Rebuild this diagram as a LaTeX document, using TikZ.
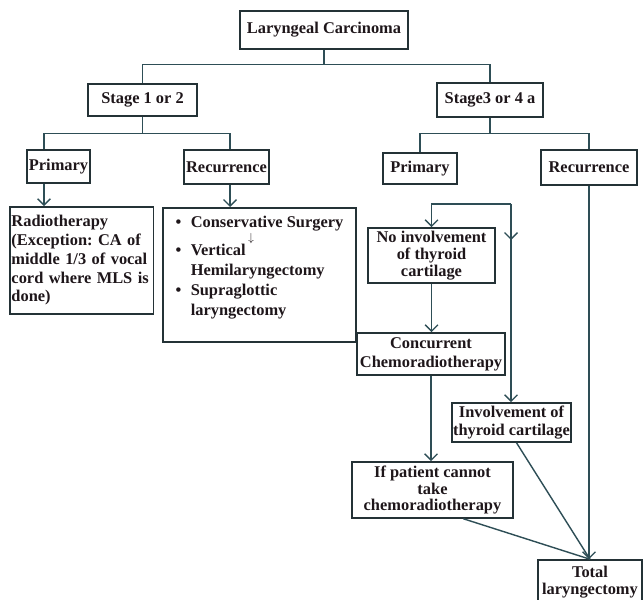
\documentclass[tikz,border=0pt]{standalone}
\usepackage{fontspec}
\setmainfont{Liberation Serif}
\usetikzlibrary{arrows.meta,calc}
\definecolor{linecol}{RGB}{46,78,86}
\definecolor{boxcol}{RGB}{36,50,54}
\definecolor{txtcol}{RGB}{30,22,26}

\begin{document}
\begin{tikzpicture}[x=0.03cm,y=-0.03cm,line width=1.2pt,
  >={Straight Barb[length=5.5pt,width=11pt]},
  box/.style={draw=boxcol,line width=1.3pt,fill=white,text=txtcol,
    font=\fontsize{14}{16}\selectfont\bfseries\frenchspacing,inner sep=1.5pt,align=center},
  tight/.style={font=\fontsize{14}{14.5}\selectfont\bfseries},
  conn/.style={draw=linecol},
  arr/.style={draw=linecol,->}]
\def\px{0.03cm}
\fill[white] (0,0) rectangle (643,600);
\useasboundingbox (0,0) rectangle (643,600);
\clip (0,0) rectangle (643,600);
% Wurzel und Stadien
\node[box,minimum width=168*\px,minimum height=38*\px] (lc) at (324,30) {Laryngeal Carcinoma};
\node[box,minimum width=109*\px,minimum height=32*\px] (s12) at (142.5,100) {Stage 1 or 2};
\node[box,minimum width=106*\px,minimum height=34*\px] (s34) at (490,100) {Stage3 or 4 a};
% Primaer / Rezidiv
\node[box,minimum width=63*\px,minimum height=33*\px] (p1) at (58.5,166.5) {Primary};
\node[box,minimum width=85*\px,minimum height=34*\px] (r1) at (226.5,167) {Recurrence};
\node[box,minimum width=74*\px,minimum height=31*\px] (p2) at (420,168.5) {Primary};
\node[box,minimum width=96*\px,minimum height=35*\px] (r2) at (589,167.5) {Recurrence};
% Stadium 1 oder 2: Therapie
\node[box,align=left,text width=4.2cm,minimum height=107*\px] (rt) at (81.5,260.5)
  {Radiotherapy\\(Exception: CA of\\middle 1/3 of vocal\\cord where MLS is\\done)};
\node[box,anchor=north,minimum width=193*\px] (cs) at (259.5,207) {%
  \begin{tabular}{@{}c@{\hspace{8pt}}l@{}}
  \rule{0pt}{15.5pt}\textbullet & Conservative Surgery\\[-4pt]
              & \hspace{3.5em}{\fontsize{10}{10}\selectfont$\downarrow$}\\[-4.25pt]
  \textbullet & Vertical\\[1pt]
              & Hemilaryngectomy\\[1pt]
  \textbullet & Supraglottic\\[1pt]
              & laryngectomy\\[16.7pt]
  \end{tabular}};
% Stadium 3 oder 4a: Therapie
\node[box,tight,minimum width=127*\px,minimum height=55*\px] (ni) at (431.5,255.5) {No involvement\\of thyroid\\cartilage};
\node[box,minimum width=148*\px,minimum height=42*\px,inner sep=1pt] (cc) at (431,354) {Concurrent\\Chemoradiotherapy};
\node[box,minimum width=119*\px,minimum height=39*\px,inner sep=0.5pt] (it) at (511.5,422.5) {Involvement of\\thyroid cartilage};
\node[box,tight,minimum width=161*\px,minimum height=56*\px] (ip) at (432.5,490) {If patient cannot\\take\\chemoradiotherapy};
\node[box,tight,minimum width=104*\px,minimum height=44*\px] (tl) at (590,582) {Total\\laryngectomy};
% Verbindungen oben
\draw[conn] (lc.south) -- ++(0,15) coordinate (j0);
\draw[conn] (s12.north) |- (j0) -| (s34.north);
\draw[conn] (s12.south) -- ++(0,17) coordinate (j1);
\coordinate (a1) at (44,0);
\coordinate (a2) at (230,0);
\draw[conn] (p1.north -| a1) |- (j1) -| (r1.north -| a2);
\draw[arr] (p1.south -| a1) -- (rt.north -| a1);
\draw[arr] (r1.south -| a2) -- (cs.north -| a2);
\draw[conn] (s34.south) -- ++(0,16) coordinate (j2);
\draw[conn] (p2.north) |- (j2) -| (r2.north);
% Klammer ueber den Knorpel-Kaesten
\coordinate (bk) at (511,204);
\draw[arr] (bk) -| (ni.north);
\draw[arr] (bk) -- ++(0,36);
\draw[arr] (bk) -- (bk |- it.north);
\draw[arr] (ni.south) -- (ni.south |- cc.north);
\draw[arr] (cc.south) -- (cc.south |- ip.north);
% zur totalen Laryngektomie
\draw[conn] ($(it.south)+(5,0)$) -- (tl.north);
\draw[conn] ($(ip.south west)!0.69!(ip.south east)$) -- (tl.north);
\draw[arr] (r2.south) -- (r2.south |- tl.north);
\end{tikzpicture}
\end{document}
